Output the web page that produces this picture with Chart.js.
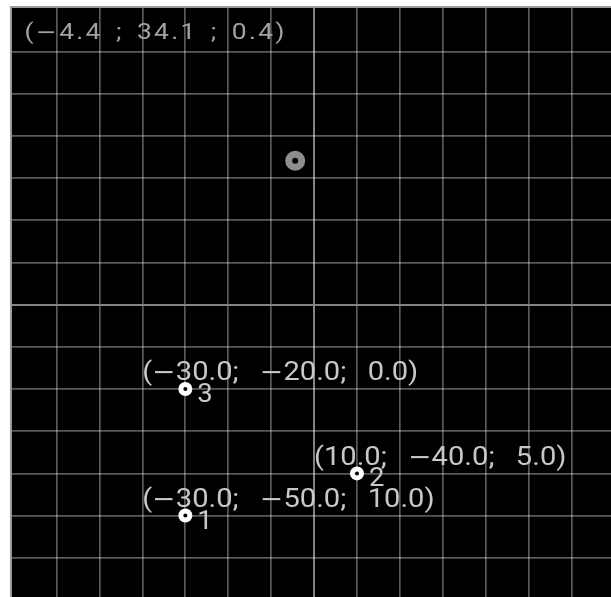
<!DOCTYPE html>
<html>
<head>
<meta charset="utf-8">
<script src="https://cdn.jsdelivr.net/npm/chart.js@4"></script>
<style>
  html, body { margin: 0; padding: 0; background: #fff; }
  #wrap {
    position: absolute; left: 10px; top: 6px;
    border-left: 2px solid #9a9a9a; border-top: 2px solid #9a9a9a;
    width: 599px; height: 589px; background: #000;
  }
  canvas { display: block; }
</style>
</head>
<body>
<div id="wrap"><canvas id="plot" width="599" height="589"></canvas></div>
<script>
// points (x, y, z) and their numbers
const pointIds = [1, 2, 3];
const pointX = [-30, 10, -30];
const pointY = [-50, -40, -20];
const pointZ = [10, 5, 0];

// cursor point shown in grey, readout in the corner
const cursorX = [-4.4];
const cursorY = [34.1];
const cursorZ = [0.4];

// grid lines every 10 units
const gridValues = [-60, -50, -40, -30, -20, -10, 0, 10, 20, 30, 40, 50, 60];
const xMin = -70.4, xMax = 69.2;
const yMin = -69.3, yMax = 70.3;

const pts = pointX.map((x, i) => ({ x: x, y: pointY[i] }));
const cur = cursorX.map((x, i) => ({ x: x, y: cursorY[i] }));

function fmt(v) {
    return v.toFixed(1).replace('-', '\u2212');
}

// texte caractère par caractère, un peu étiré en largeur
function drawText(ctx, str, x, y, size, sx, ls, sp) {
    ctx.save();
    ctx.translate(x, y);
    ctx.scale(sx, 1);
    let cx = 0;
    for (const ch of str) {
        if (ch === ' ') { cx += sp; continue; }
        ctx.font = ch === '\u2212' ? (size - 1) + 'px "DejaVu Sans"' : size + 'px Roboto';
        ctx.fillText(ch, cx, 0);
        cx += ctx.measureText(ch).width + ls;
    }
    ctx.restore();
}

// dessine les étiquettes à côté des points
const labelPlugin = {
    id: 'labels',
    afterDatasetsDraw(chart) {
        const ctx = chart.ctx;
        const xs = chart.scales.x, ys = chart.scales.y;
        ctx.save();
        ctx.textAlign = 'left';
        ctx.textBaseline = 'alphabetic';
        ctx.fillStyle = '#c8c8c8';
        pointIds.forEach((id, i) => {
            const px = xs.getPixelForValue(pointX[i]);
            const py = ys.getPixelForValue(pointY[i]);
            const txt = '(' + fmt(pointX[i]) + '; ' + fmt(pointY[i]) + '; ' + fmt(pointZ[i]) + ')';
            drawText(ctx, txt, px - 43, py - 8.5, 26, 1.12, 0, 19);
            drawText(ctx, String(id), px + 12, py + 13, 25, 1.1, 0, 0);
        });
        // readout du curseur
        ctx.fillStyle = '#a2a2a2';
        const t = '(' + fmt(cursorX[0]) + ' ; ' + fmt(cursorY[0]) + ' ; ' + fmt(cursorZ[0]) + ')';
        drawText(ctx, t, 12.5, 30.7, 22, 1.2, 1.9, 11);
        ctx.restore();
    }
};

function gridOpts() {
    return {
        type: 'linear',
        ticks: { display: false },
        border: { display: false },
        grid: {
            drawTicks: false,
            color: c => c.tick.value === 0 ? '#828282' : 'rgba(255,255,255,0.35)',
            lineWidth: c => c.tick.value === 0 ? 2 : 1.7
        },
        afterBuildTicks: scale => {
            scale.ticks = gridValues.map(v => ({ value: v }));
        }
    };
}

const xOpts = Object.assign(gridOpts(), { min: xMin, max: xMax });
const yOpts = Object.assign(gridOpts(), { min: yMin, max: yMax });

new Chart(document.getElementById('plot'), {
    type: 'scatter',
    data: {
        datasets: [
            { data: pts, order: 1, pointRadius: 7, pointBackgroundColor: '#ffffff', pointBorderWidth: 0 },
            { data: pts, order: 0, pointRadius: 2, pointBackgroundColor: '#000000', pointBorderWidth: 0 },
            { data: cur, order: 3, pointRadius: 10, pointBackgroundColor: '#8e8e8e', pointBorderWidth: 0 },
            { data: cur, order: 2, pointRadius: 3, pointBackgroundColor: '#000000', pointBorderWidth: 0 }
        ]
    },
    options: {
        responsive: false,
        animation: false,
        events: [],
        layout: { padding: 0, autoPadding: false },
        plugins: { legend: { display: false }, tooltip: { enabled: false } },
        scales: { x: xOpts, y: yOpts }
    },
    plugins: [labelPlugin]
});
</script>
</body>
</html>
